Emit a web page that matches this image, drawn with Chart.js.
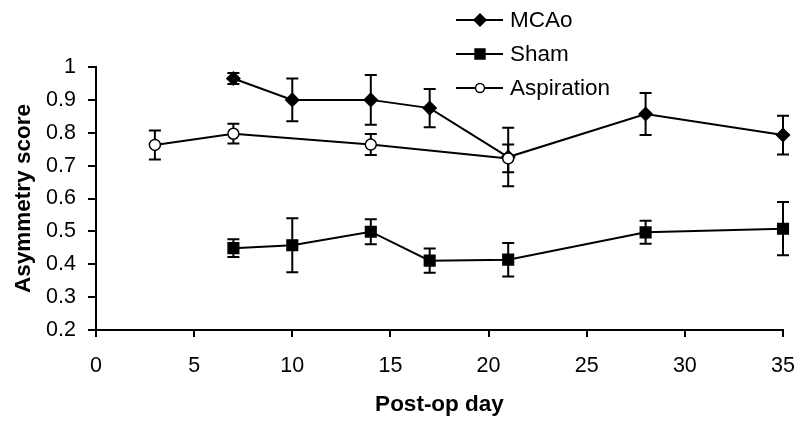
<!DOCTYPE html>
<html>
<head>
<meta charset="utf-8">
<script src="https://cdn.jsdelivr.net/npm/chart.js@4/dist/chart.umd.min.js"></script>
<style>
  html, body { margin: 0; padding: 0; background: #fff; }
  #wrap { width: 797px; height: 422px; }
</style>
</head>
<body>
<div id="wrap"><canvas id="asymmetry_chart"></canvas></div>
<script>
// asymmetry score by post-op day, mean with error (+/-)
const mcaoDays = [7, 10, 14, 17, 21, 28, 35]
const mcaoScore = [0.965, 0.900, 0.900, 0.875, 0.726, 0.857, 0.793]
const mcaoErr = [0.017, 0.065, 0.076, 0.058, 0.089, 0.064, 0.059]

const shamDays = [7, 10, 14, 17, 21, 28, 35]
const shamScore = [0.449, 0.458, 0.499, 0.411, 0.414, 0.497, 0.508]
const shamErr = [0.027, 0.082, 0.038, 0.037, 0.051, 0.035, 0.081]

const aspDays = [3, 7, 14, 21]
const aspScore = [0.763, 0.797, 0.764, 0.722]
const aspErr = [0.044, 0.030, 0.032, 0.042]

const xTicks = [0, 5, 10, 15, 20, 25, 30, 35]
const yTicks = [0.2, 0.3, 0.4, 0.5, 0.6, 0.7, 0.8, 0.9, 1]

const toPoints = (days, scores) => days.map((d, i) => ({ x: d, y: scores[i] }))

Chart.defaults.color = '#000'
Chart.defaults.font.family = "'Liberation Sans', Arial, sans-serif"

// vertical error bars with caps, drawn under the markers
const errorBars = {
    id: 'errorBars',
    beforeDatasetsDraw(chart) {
        const { ctx, scales: { x, y } } = chart
        ctx.save()
        ctx.strokeStyle = '#000'
        ctx.lineWidth = 2
        chart.data.datasets.forEach((ds) => {
            ds.data.forEach((p, i) => {
                const px = x.getPixelForValue(p.x)
                const top = y.getPixelForValue(p.y + ds.errors[i])
                const bot = y.getPixelForValue(p.y - ds.errors[i])
                ctx.beginPath()
                ctx.moveTo(px, top)
                ctx.lineTo(px, bot)
                ctx.moveTo(px - 6, top)
                ctx.lineTo(px + 6, top)
                ctx.moveTo(px - 6, bot)
                ctx.lineTo(px + 6, bot)
                ctx.stroke()
            })
        })
        ctx.restore()
    }
}

// legend stacked at the top, overlapping the plot a little
const stackedLegend = {
    id: 'stackedLegend',
    afterDraw(chart) {
        const ctx = chart.ctx
        const rows = [20, 54, 88]
        ctx.save()
        ctx.font = "22.5px 'Liberation Sans', Arial, sans-serif"
        ctx.textBaseline = 'middle'
        ctx.textAlign = 'left'
        chart.data.datasets.forEach((ds, i) => {
            const y = rows[i]
            ctx.strokeStyle = '#000'
            ctx.lineWidth = 2
            ctx.beginPath()
            ctx.moveTo(456, y)
            ctx.lineTo(503, y)
            ctx.stroke()
            ctx.fillStyle = ds.pointBackgroundColor
            ctx.lineWidth = ds.pointBorderWidth
            Chart.helpers.drawPoint(ctx, {
                pointStyle: ds.pointStyle,
                radius: ds.legendRadius,
                rotation: 0,
                borderWidth: ds.pointBorderWidth
            }, 480, y)
            ctx.fillStyle = '#000'
            ctx.fillText(ds.label, 510, y + 1)
        })
        ctx.restore()
    }
}

const line = (label, days, scores, errs, style, radius, fill, legendRadius, order) => ({
    label: label,
    data: toPoints(days, scores),
    errors: errs,
    borderColor: '#000',
    borderWidth: 2,
    tension: 0,
    pointStyle: style,
    pointRadius: radius,
    pointBackgroundColor: fill,
    pointBorderColor: '#000',
    pointBorderWidth: 1.5,
    legendRadius: legendRadius,
    clip: false,
    order: order,
})

const canvas = document.querySelector('#asymmetry_chart')

new Chart(canvas, {
    type: 'line',
    data: {
        datasets: [
            line('MCAo', mcaoDays, mcaoScore, mcaoErr, 'rectRot', 6.5, '#000', 6, 3),
            line('Sham', shamDays, shamScore, shamErr, 'rect', 7.5, '#000', 7, 2),
            line('Aspiration', aspDays, aspScore, aspErr, 'circle', 5.5, '#fff', 4.5, 1),
        ]
    },
    options: {
        responsive: true,
        maintainAspectRatio: false,
        animation: false,
        layout: { padding: { top: 67, right: 14, left: 0, bottom: 0 } },
        plugins: {
            legend: { display: false },
            tooltip: { enabled: false },
        },
        scales: {
            x: {
                type: 'linear',
                min: 0,
                max: 35,
                afterFit: (scale) => {
                    scale.height = 92
                    scale.paddingLeft = 0
                    scale.paddingRight = 0
                },
                afterBuildTicks: (scale) => { scale.ticks = xTicks.map((v) => ({ value: v })) },
                border: { color: '#000', width: 2 },
                grid: { drawOnChartArea: false, color: '#000', lineWidth: 2, tickLength: 7 },
                ticks: { font: { size: 21.5 }, padding: 16, maxRotation: 0 },
                title: {
                    display: true,
                    text: 'Post-op day',
                    font: { size: 22.5, weight: 'bold' },
                    padding: { top: 0, bottom: 4 },
                },
            },
            y: {
                type: 'linear',
                min: 0.2,
                max: 1,
                afterFit: (scale) => {
                    scale.width = 96
                    scale.paddingTop = 0
                    scale.paddingBottom = 0
                },
                afterBuildTicks: (scale) => { scale.ticks = yTicks.map((v) => ({ value: v })) },
                border: { color: '#000', width: 2 },
                grid: { drawOnChartArea: false, color: '#000', lineWidth: 2, tickLength: 8 },
                ticks: {
                    font: { size: 21.5 },
                    padding: 12,
                    callback: (v) => String(Number(v.toFixed(1))),
                },
                title: {
                    display: true,
                    text: 'Asymmetry score',
                    font: { size: 22.5, weight: 'bold' },
                    padding: { top: 10, bottom: 0 },
                },
            },
        },
    },
    plugins: [errorBars, stackedLegend],
})
</script>
</body>
</html>
